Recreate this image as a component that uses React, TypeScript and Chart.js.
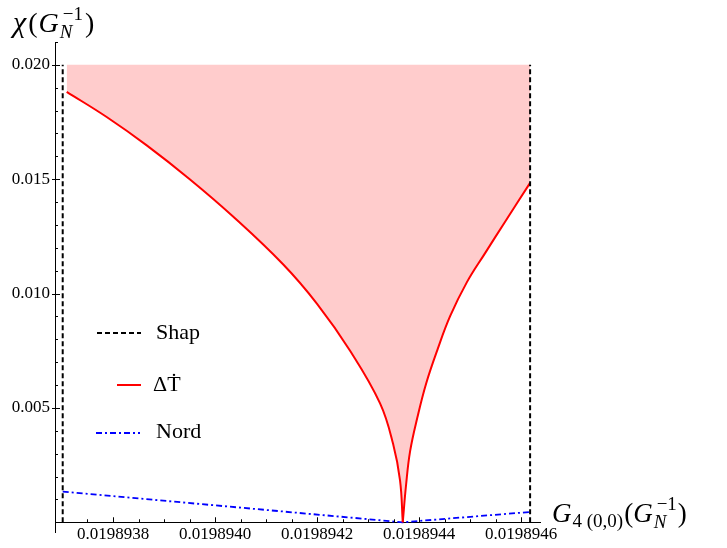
import React, { useRef, useEffect } from 'react';
import Chart from 'chart.js/auto';

// ΔṪ boundary, left branch (x = G4(0,0) in G_N^-1, y = χ)
const leftX = [0.0198937092, 0.0198937876, 0.0198938661, 0.019893951, 0.0198940353, 0.0198941333, 0.01989420, 0.0198942647, 0.0198943235, 0.019894349, 0.0198943627, 0.019894368];
const leftY = [0.01882, 0.01772, 0.01648, 0.01499, 0.01337, 0.01128, 0.00955, 0.00750, 0.00520, 0.00343, 0.00182, 0];
// ΔṪ boundary, right branch
const rightX = [0.019894368, 0.0198943745, 0.0198943824, 0.0198943967, 0.0198944137, 0.0198944359, 0.0198944608, 0.0198944935, 0.0198945294, 0.0198945686, 0.0198946176];
const rightY = [0, 0.00164, 0.00311, 0.00459, 0.00606, 0.00754, 0.00901, 0.01049, 0.01177, 0.01314, 0.01484];
// Nord (dot-dashed blue)
const nordX = [0.0198937014, 0.019894368, 0.0198946176];
const nordY = [0.00134, 0, 0.00045];
// Shap (dashed black verticals)
const shapLeftX = [0.0198937014, 0.0198937014];
const shapRightX = [0.0198946176, 0.0198946176];
const shapY = [0, 0.02];
const fillTop = 0.02;

const xTicks = [0.0198938, 0.019894, 0.0198942, 0.0198944, 0.0198946];
const yTicks = [0.005, 0.01, 0.015, 0.02];
const legendLabels = ['Shap', 'ΔṪ', 'Nord'];

const xMin = 0.0198936863;
const xMax = 0.019894637;
const yMin = -0.00046;
const yMax = 0.021;

const SERIF = '"Liberation Serif", "Times New Roman", serif';

const toPts = (xs: number[], ys: number[]) => xs.map((x, i) => ({ x, y: ys[i] }));

// subscript and superscript stacked after a symbol
function scripted(ctx: CanvasRenderingContext2D, x: number, base: number, sub: string, sup: string, subItalic: boolean) {
    ctx.font = `${subItalic ? 'italic ' : ''}19px ${SERIF}`;
    ctx.fillText(sub, x + 1, base + 6);
    const w1 = ctx.measureText(sub).width + 1;
    ctx.font = `19px ${SERIF}`;
    ctx.fillText(sup, x + 4, base - 12);
    const w2 = ctx.measureText(sup).width + 4;
    return x + Math.max(w1, w2) + 1;
}

function word(ctx: CanvasRenderingContext2D, text: string, x: number, base: number, italic: boolean, size = 27) {
    ctx.font = `${italic ? 'italic ' : ''}${size}px ${SERIF}`;
    ctx.fillText(text, x, base);
    return x + ctx.measureText(text).width;
}

const decorations = {
    id: 'decorations',
    afterDraw(chart: any) {
        const { ctx } = chart;
        const xs = chart.scales.x;
        const ys = chart.scales.y;
        const axisY = ys.getPixelForValue(0);
        const axisX = chart.chartArea.left;
        ctx.save();

        // tick marks
        ctx.strokeStyle = '#000';
        ctx.lineWidth = 1;
        ctx.beginPath();
        for (let i = 0; i <= 20; i++) {
            const v = 0.0198937 + i * 0.5e-7;
            if (v > xMax) break;
            const px = Math.round(xs.getPixelForValue(v)) + 0.5;
            const len = i % 4 === 2 ? 5 : 3;
            ctx.moveTo(px, axisY);
            ctx.lineTo(px, axisY - len);
        }
        for (let i = 1; i <= 21; i++) {
            const py = Math.round(ys.getPixelForValue(i * 0.001)) + 0.5;
            if (i % 5 === 0) {
                ctx.moveTo(axisX - 3, py);
                ctx.lineTo(axisX + 5, py);
            } else {
                ctx.moveTo(axisX, py);
                ctx.lineTo(axisX + 3, py);
            }
        }
        ctx.stroke();

        // legend
        const rows = [
            { ds: 0, y: 333, x0: 97, x1: 141, tx: 156, base: 339 },
            { ds: 3, y: 385, x0: 117, x1: 141, tx: 153, base: 391 },
            { ds: 5, y: 433, x0: 96, x1: 140, tx: 156, base: 438 },
        ];
        rows.forEach((r, i) => {
            const d = chart.data.datasets[r.ds];
            ctx.strokeStyle = d.borderColor;
            ctx.lineWidth = d.borderWidth;
            ctx.setLineDash(d.borderDash || []);
            ctx.beginPath();
            ctx.moveTo(r.x0, r.y);
            ctx.lineTo(r.x1, r.y);
            ctx.stroke();
            ctx.setLineDash([]);
            ctx.fillStyle = '#000';
            ctx.font = `22px ${SERIF}`;
            ctx.textBaseline = 'alphabetic';
            ctx.textAlign = 'left';
            ctx.fillText(legendLabels[i], r.tx, r.base);
        });

        // axis titles
        ctx.fillStyle = '#000';
        let x = word(ctx, 'χ', 13, 32, true, 30);
        x = word(ctx, '(', x + 2, 32, false, 28);
        x = word(ctx, 'G', x + 1, 32, true, 28);
        x = scripted(ctx, x, 32, 'N', '−1', true);
        word(ctx, ')', x + 1, 32, false, 28);

        x = word(ctx, 'G', 552, 522, true);
        ctx.font = `19px ${SERIF}`;
        ctx.fillText('4 (0,0)', x + 1, 527);
        x = x + 2 + ctx.measureText('4 (0,0)').width;
        x = word(ctx, '(', x, 522, false);
        x = word(ctx, 'G', x, 522, true);
        x = scripted(ctx, x, 522, 'N', '−1', true);
        word(ctx, ')', x, 522, false);

        ctx.restore();
    },
};

const App = () => {
    const chartRef = useRef<HTMLCanvasElement>(null);

    useEffect(() => {
        if (!chartRef.current) return;
        const shapStyle = { borderColor: '#000', borderWidth: 2, borderDash: [5, 3], pointRadius: 0, fill: false, order: 0 };
        const redStyle = { borderColor: 'rgb(255,0,0)', borderWidth: 2, pointRadius: 0, order: 1, fill: false, tension: 0.4 };
        const myChart = new Chart(chartRef.current, {
            type: 'line',
            data: {
                datasets: [
                    { label: 'Shap', data: toPts(shapLeftX, shapY), ...shapStyle },
                    { label: 'Shap', data: toPts(shapRightX, shapY), ...shapStyle },
                    {
                        label: 'region', data: toPts([...leftX, ...rightX.slice(1)], [...leftY, ...rightY.slice(1)]),
                        borderWidth: 0, borderColor: 'rgba(0,0,0,0)', backgroundColor: 'rgb(255,204,204)',
                        fill: { value: fillTop }, pointRadius: 0, tension: 0.4, order: 3,
                    },
                    { label: 'ΔṪ', data: toPts(leftX, leftY), ...redStyle },
                    { label: 'ΔṪ', data: toPts(rightX, rightY), ...redStyle },
                    {
                        label: 'Nord', data: toPts(nordX, nordY), borderColor: 'rgb(0,0,255)', borderWidth: 1.8,
                        borderDash: [6, 3, 2, 3], pointRadius: 0, fill: false, order: 2,
                    },
                ],
            },
            options: {
                animation: false,
                responsive: true,
                maintainAspectRatio: false,
                events: [],
                layout: { padding: { top: 42, right: 187, bottom: 0, left: 0 } },
                plugins: {
                    legend: { display: false },
                    tooltip: { enabled: false },
                    filler: { drawTime: 'beforeDatasetsDraw' },
                },
                scales: {
                    x: {
                        type: 'linear',
                        min: xMin,
                        max: xMax,
                        position: { y: 0 },
                        grid: { display: false, drawTicks: false },
                        border: { color: '#000', width: 1 },
                        afterBuildTicks: (s: any) => { s.ticks = xTicks.map((v) => ({ value: v })); },
                        afterFit: (s: any) => { s.height = 21; },
                        ticks: {
                            autoSkip: false, maxRotation: 0, padding: 2, color: '#000',
                            font: { family: SERIF, size: 17 },
                            callback: (v: any) => Number(v).toFixed(7),
                        },
                    },
                    y: {
                        type: 'linear',
                        min: yMin,
                        max: yMax,
                        position: 'left',
                        grid: { display: false, drawTicks: false },
                        border: { color: '#000', width: 1 },
                        afterBuildTicks: (s: any) => { s.ticks = yTicks.map((v) => ({ value: v })); },
                        afterFit: (s: any) => { s.width = 55; },
                        ticks: {
                            padding: 5, color: '#000',
                            font: { family: SERIF, size: 17 },
                            callback: (v: any) => Number(v).toFixed(3),
                        },
                    },
                },
            } as any,
            plugins: [decorations],
        });
        return () => {
            myChart.destroy();
        };
    }, []);

    return (
        <div style={{ position: 'absolute', left: 0, top: 0, width: 727, height: 548, background: '#fff' }}>
            <canvas ref={chartRef}></canvas>
        </div>
    );
};

export default App;
